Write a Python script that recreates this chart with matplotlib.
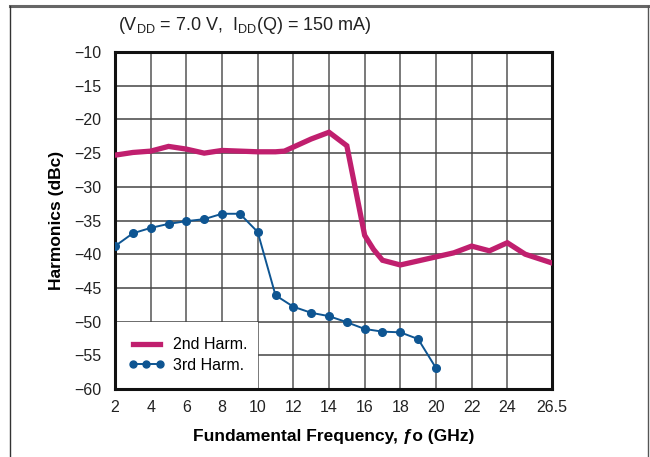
import matplotlib
matplotlib.use("Agg")
import matplotlib.pyplot as plt
from matplotlib.lines import Line2D
from matplotlib.patches import Rectangle

plt.rcParams['font.family'] = ['Liberation Sans Narrow', 'Liberation Sans', 'DejaVu Sans']
plt.rcParams['mathtext.default'] = 'regular'

# 2nd harmonic (thick magenta)
freq_2nd = [2, 3, 4, 5, 6, 7, 8, 9, 10, 11, 11.5, 12, 13, 14, 15, 16, 16.5, 17, 18,
            19, 20, 21, 22, 23, 24, 25, 26.5]
harm_2nd = [-25.3, -24.9, -24.7, -24.0, -24.4, -25.0, -24.6, -24.7, -24.8, -24.8, -24.7,
            -24.1, -22.9, -21.9, -23.9, -37.2, -39.3, -40.9, -41.6, -41.0, -40.4,
            -39.8, -38.8, -39.5, -38.3, -40.0, -41.3]

# 3rd harmonic (blue with dots)
freq_3rd = [2, 3, 4, 5, 6, 7, 8, 9, 10, 11, 12, 13, 14, 15, 16, 17, 18, 19, 20]
harm_3rd = [-38.8, -36.9, -36.1, -35.5, -35.1, -34.8, -34.0, -34.0, -36.7, -46.1,
            -47.8, -48.7, -49.2, -50.1, -51.1, -51.5, -51.6, -52.6, -56.9]

xticks = [2, 4, 6, 8, 10, 12, 14, 16, 18, 20, 22, 24, 26.5]
xticklabels = ['2', '4', '6', '8', '10', '12', '14', '16', '18', '20', '22', '24', '26.5']
yticks = [-10, -15, -20, -25, -30, -35, -40, -45, -50, -55, -60]

magenta = '#C01F6E'
blue = '#0E5592'

fig = plt.figure(figsize=(6.5, 4.57), dpi=100)
ax = fig.add_axes([0.177, 0.149, 0.672, 0.737])

ax.set_xlim(2, 26.5)
ax.set_ylim(-60, -10)
ax.set_axisbelow(True)

# grid
for x in range(4, 26, 2):
    ax.axvline(x, color='#555555', lw=1.1, zorder=0.5)
for y in range(-55, -10, 5):
    ax.axhline(y, color='#444444', lw=1.1, zorder=0.5)

# white box behind legend
ax.add_patch(Rectangle((2, -60), 8, 10, facecolor='white', edgecolor='none', zorder=1))

ax.plot(freq_2nd, harm_2nd, color=magenta, lw=3.8, solid_joinstyle='miter', zorder=3)
ax.plot(freq_3rd, harm_3rd, color=blue, lw=1.4, marker='o', ms=5.5, zorder=4)

ax.set_xticks(xticks)
ax.set_xticklabels(xticklabels)
ax.set_yticks(yticks)
ax.set_yticklabels(['\u2212' + str(abs(v)) for v in yticks])
ax.tick_params(length=0, labelsize=11.5, colors='#222222', pad=8)
ax.tick_params(axis='y', pad=10)

for s in ax.spines.values():
    s.set_linewidth(2.2)
    s.set_color('#111111')

ax.set_xlabel('Fundamental Frequency, \u0192o (GHz)', fontsize=12.5, fontweight='bold',
              labelpad=10)
ax.set_ylabel('Harmonics (dBc)', fontsize=12.5, fontweight='bold', labelpad=7)

fig.text(0.182, 0.945, '(V$_{DD}$ = 7.0 V,  I$_{DD}$(Q) = 150 mA)', fontsize=13,
         color='#222222', va='center', ha='left')

h_2nd = Line2D([], [], color=magenta, lw=3.8)
h_3rd = Line2D([], [], color=blue, lw=1.4, marker='o', ms=5)
leg = ax.legend([h_2nd, h_3rd], ['2nd Harm.', '3rd Harm.'], loc='lower left',
                bbox_to_anchor=(0.0, 0.01), frameon=False, fontsize=11.5,
                handlelength=2.3, handletextpad=0.5, labelspacing=0.35,
                borderaxespad=0.4, numpoints=3)
leg.set_zorder(5)

# outer frame lines
fig.add_artist(Line2D([0.0154, 0.997], [0.987, 0.987], color='#666666', lw=2.2))
fig.add_artist(Line2D([0.0154, 0.0154], [0.0, 0.987], color='#333333', lw=1.0))
fig.add_artist(Line2D([0.997, 0.997], [0.0, 0.987], color='#555555', lw=1.0))

fig.savefig('out.png', dpi=100)
